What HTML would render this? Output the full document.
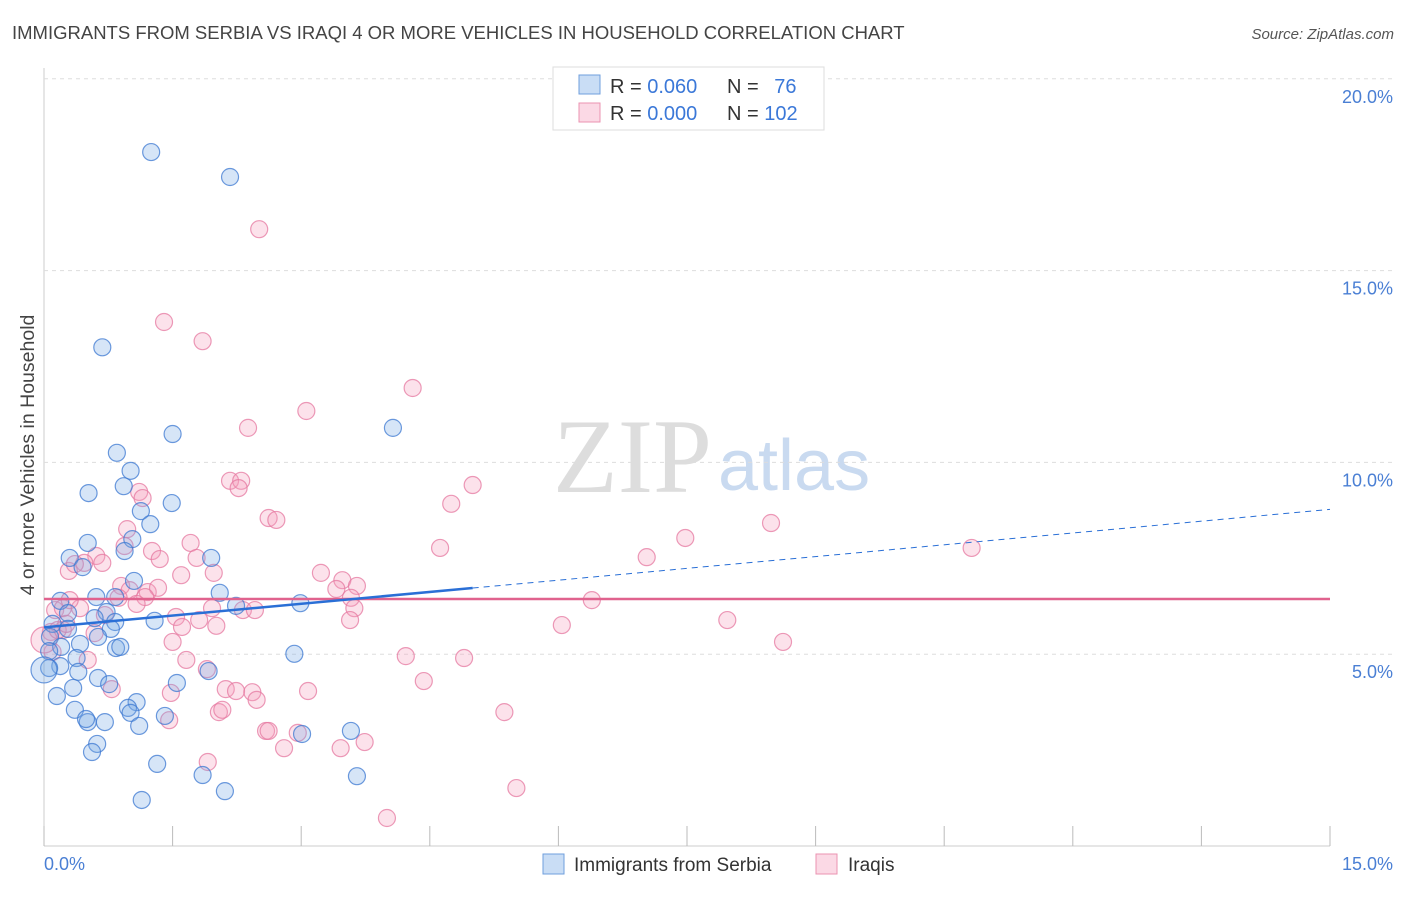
<!DOCTYPE html>
<html><head><meta charset="utf-8"><style>
body{margin:0;background:#fff;font-family:"Liberation Sans",sans-serif}
</style></head><body>
<svg id="chart" width="1406" height="892" xmlns="http://www.w3.org/2000/svg">
<text x="12" y="39" font-size="18.5" fill="#444">IMMIGRANTS FROM SERBIA VS IRAQI 4 OR MORE VEHICLES IN HOUSEHOLD CORRELATION CHART</text>
<text x="1394" y="39" font-size="15" fill="#555" font-style="italic" text-anchor="end">Source: ZipAtlas.com</text>
<text transform="translate(34,455) rotate(-90)" font-size="19.5" fill="#444" text-anchor="middle">4 or more Vehicles in Household</text>
<text x="553" y="492" font-size="106" fill="#ddd" font-family="Liberation Serif">ZIP</text>
<text x="718" y="490" font-size="72" fill="#c9daf0">atlas</text>
<g id="grid"></g><g id="marks"></g><g id="lines"></g>
<g>
<rect x="553" y="67" width="271" height="63" fill="#fff" stroke="#ddd"/>
<rect x="579" y="75" width="21" height="19" fill="rgba(120,170,230,0.4)" stroke="#6f9fdd"/>
<rect x="579" y="103" width="21" height="19" fill="rgba(245,160,190,0.4)" stroke="#eb93b1"/>
<text x="610" y="93" font-size="20" fill="#333">R = <tspan fill="#3b78d8">0.060</tspan></text>
<text x="727" y="93" font-size="20" fill="#333">N = <tspan fill="#3b78d8" dx="10">76</tspan></text>
<text x="610" y="120" font-size="20" fill="#333">R = <tspan fill="#3b78d8">0.000</tspan></text>
<text x="727" y="120" font-size="20" fill="#333">N = <tspan fill="#3b78d8">102</tspan></text>
</g>
<g>
<rect x="543" y="854" width="21" height="20" fill="rgba(120,170,230,0.4)" stroke="#6f9fdd"/>
<text x="574" y="871" font-size="19" fill="#333">Immigrants from Serbia</text>
<rect x="816" y="854" width="21" height="20" fill="rgba(245,160,190,0.4)" stroke="#eb93b1"/>
<text x="848" y="871" font-size="19" fill="#333">Iraqis</text>
</g>
<text x="44" y="870" font-size="18" fill="#4a7fd4">0.0%</text>
<text x="1393" y="870" font-size="18" fill="#4a7fd4" text-anchor="end">15.0%</text>
</svg>
<script>
const yTicks=[5,10,15,20];
const yTickLabels=["5.0%","10.0%","15.0%","20.0%"];
const serbiaX=[1.25,2.17,0.68,1.50,4.07,0.85,1.01,0.52,0.93,1.49,1.13,1.24,0.51,1.03,0.30,0.94,1.95,0.45,1.05,2.05,0.61,0.83,0.19,0.28,0.73,2.24,2.99,0.59,0.83,0.78,1.29,0.10,0.28,0.07,0.63,0.42,0.84,0.89,0.20,0.06,2.92,0.38,0.19,0.06,0.40,1.92,0.63,0.76,0.34,1.55,0.15,1.08,0.98,0.36,1.01,1.41,0.51,0.49,0.71,1.11,3.01,3.58,0.62,0.56,1.32,1.85,3.65,2.11,1.14,0.00];
const serbiaY=[18.09,17.44,13.00,10.74,10.90,10.25,9.78,9.20,9.38,8.94,8.73,8.39,7.90,8.00,7.51,7.69,7.51,7.27,6.91,6.60,6.49,6.49,6.39,6.07,6.10,6.26,6.33,5.94,5.84,5.66,5.87,5.79,5.66,5.45,5.45,5.27,5.16,5.19,5.19,5.08,5.01,4.90,4.69,4.64,4.54,4.56,4.38,4.22,4.12,4.25,3.91,3.75,3.60,3.55,3.47,3.39,3.23,3.31,3.23,3.13,2.92,3.00,2.66,2.45,2.14,1.85,1.82,1.43,1.20,4.59];
const iraqiX=[2.51,1.40,1.85,4.30,3.06,2.38,5.00,4.75,2.17,2.30,2.27,1.11,1.15,2.62,2.71,8.48,7.48,4.62,10.82,7.03,0.97,0.94,0.61,1.26,1.71,1.35,1.78,0.47,0.68,0.29,0.36,1.60,1.98,0.90,1.00,1.21,1.33,0.87,1.18,1.08,0.42,0.13,0.22,3.23,3.48,3.65,3.41,3.58,3.62,2.32,2.46,1.96,1.54,1.81,2.01,1.61,3.57,6.04,7.97,6.39,1.50,0.22,0.08,0.59,0.10,0.51,1.66,1.90,4.22,4.90,8.62,0.79,1.48,2.12,2.24,2.43,3.08,4.43,2.04,2.08,2.48,2.59,2.62,2.96,2.80,3.46,3.74,1.46,5.37,1.91,5.51,4.00,0.00,0.16,0.26,0.30,0.71];
const iraqiY=[16.08,13.66,13.16,11.94,11.34,10.90,9.41,8.92,9.52,9.52,9.33,9.23,9.07,8.55,8.50,8.42,8.03,7.77,7.77,7.53,8.26,7.82,7.56,7.69,7.90,7.48,7.51,7.38,7.38,7.17,7.35,7.06,7.12,6.78,6.67,6.62,6.73,6.47,6.49,6.31,6.20,6.15,6.20,7.12,6.93,6.78,6.70,6.47,6.20,6.15,6.15,6.20,5.97,5.89,5.74,5.71,5.89,5.76,5.89,6.41,5.32,5.63,5.58,5.55,5.06,4.85,4.85,4.61,4.95,4.90,5.32,4.09,3.99,4.09,4.04,4.01,4.04,4.30,3.49,3.55,3.81,3.00,3.00,2.95,2.55,2.55,2.71,3.28,3.49,2.19,1.51,0.73,5.37,5.63,5.79,6.41,6.02];
const serbiaTrend=[5.70,0.205]; // intercept, slope
const iraqiTrend=[6.44,0];
const xTicks=[0,1.5,3,4.5,6,7.5,9,10.5,12,13.5,15];

const NS="http://www.w3.org/2000/svg";
const sx=v=>44+v*(1286/15);
const sy=v=>846-v*38.36;
function mk(tag,attrs,parent){const e=document.createElementNS(NS,tag);for(const k in attrs)e.setAttribute(k,attrs[k]);document.getElementById(parent).appendChild(e);return e;}

let a=mk('line',{x1:44,y1:68,x2:44,y2:846,stroke:'#ccc'},'grid');


a=mk('line',{x1:44,y1:846,x2:1330,y2:846,stroke:'#ccc'},'grid');


yTicks.forEach((t,i)=>{
 const g=mk('line',{x1:44,y1:sy(t),x2:1393,y2:sy(t),stroke:'#ddd','stroke-dasharray':'4,4'},'grid');
 
 
 const l=mk('text',{x:1393,y:sy(t)+24,'font-size':18,fill:'#4a7fd4','text-anchor':'end'},'grid');
 l.textContent=yTickLabels[i];
 
 
});
xTicks.forEach(t=>{
 const k=mk('line',{x1:sx(t),y1:826,x2:sx(t),y2:846,stroke:'#bbb'},'grid');
 
 
});
function dots(X,Y,fill,stroke,name){
 X.forEach((x,i)=>{
  const big=x===0;
  const c=mk('circle',{cx:sx(x),cy:sy(Y[i]),r:big?13:8.5,fill:fill,stroke:stroke,'stroke-width':1.2},'marks');
  
  
 });
}
dots(iraqiX,iraqiY,'rgba(245,160,190,0.3)','rgba(230,120,160,0.75)','iraqi-point');
dots(serbiaX,serbiaY,'rgba(120,170,230,0.3)','rgba(60,120,210,0.75)','serbia-point');
const f=(tr,x)=>tr[0]+tr[1]*x;
let ln=mk('line',{x1:sx(0),y1:sy(f(iraqiTrend,0)),x2:sx(15),y2:sy(f(iraqiTrend,15)),stroke:'#e0628e','stroke-width':2.5},'lines');


ln=mk('line',{x1:sx(0),y1:sy(f(serbiaTrend,0)),x2:sx(5),y2:sy(f(serbiaTrend,5)),stroke:'#2a6fd6','stroke-width':2.5},'lines');


ln=mk('line',{x1:sx(5),y1:sy(f(serbiaTrend,5)),x2:sx(15),y2:sy(f(serbiaTrend,15)),stroke:'#2a6fd6','stroke-width':1,'stroke-dasharray':'6,5'},'lines');


</script>
</body></html>
